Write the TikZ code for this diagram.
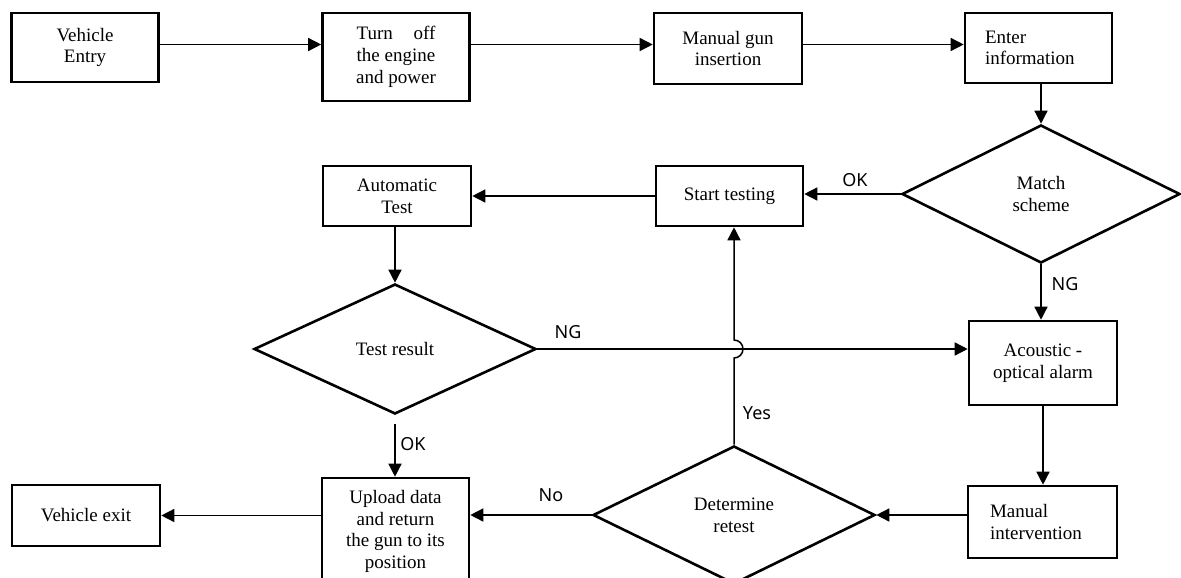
\documentclass[tikz,border=0pt]{standalone}
\usepackage{fontspec}
\setmainfont{Liberation Serif}
\newfontfamily\labfont{Noto Sans}
\usetikzlibrary{arrows.meta,shapes.geometric}
\begin{document}
\begin{tikzpicture}[x=1pt,y=-1pt,
  box/.style={draw,line width=2.6pt,rectangle,inner sep=0pt,align=center,
    font=\fontsize{19pt}{21.7pt}\selectfont},
  lbox/.style={box,align=left},
  dec/.style={draw,line width=2.6pt,diamond,inner sep=0pt,align=center,
    font=\fontsize{19pt}{21.7pt}\selectfont},
  conn/.style={line width=1.5pt,-{Triangle[length=13pt,width=13pt]}},
  lab/.style={font=\labfont\fontsize{18pt}{20pt}\selectfont,inner sep=0pt}]
\path[use as bounding box,clip] (0,0) rectangle (1181,578);

\coordinate (row) at (0,44.5);
% top row
\node[box,minimum width=147pt,minimum height=69pt] (ve) at (85,47.5) {Vehicle\\Entry};
\node[box,minimum width=147pt,minimum height=88pt] (to) at (396,57) {\makebox[4.14em]{Turn\hfill off}\\the engine\\and power};
\node[box,minimum width=148pt,minimum height=71pt] (mg) at (728,48.5) {Manual gun\\insertion};
\node[lbox,text width=107pt,minimum width=147pt,minimum height=70pt] (ei) at (1038.5,48) {Enter\\information};

% second row
\node[dec,minimum width=278pt,minimum height=138pt] (ms) at (1041,194) {Match\\scheme};
\node[box,minimum width=147pt,minimum height=60pt] (st) at (729.5,196) {Start testing};
\node[box,minimum width=148pt,minimum height=60pt] (at) at (397,196) {Automatic\\Test};

% third row
\node[dec,minimum width=282pt,minimum height=130pt] (tr) at (395,349) {Test result};
\node[box,minimum width=148pt,minimum height=84pt] (ac) at (1043,363) {Acoustic -\\optical alarm};

% bottom row
\node[lbox,text width=105pt,minimum width=149pt,minimum height=72pt] (mi) at (1042.5,522) {Manual\\intervention};
\node[dec,minimum width=282pt,minimum height=138pt] (dr) at (734,515) {Determine\\retest};
\node[box,minimum width=147pt,minimum height=107pt] (up) at (395.5,531.5) {Upload data\\and return\\the gun to its\\position};
\node[box,minimum width=148pt,minimum height=61pt] (vx) at (86,515.5) {Vehicle exit};

% connectors
\draw[conn] (ve.east |- row) -- (to.west |- row);
\draw[conn] (to.east |- row) -- (mg.west |- row);
\draw[conn] (mg.east |- row) -- (ei.west |- row);
\draw[conn] (ms.north |- ei.south) -- (ms.north);
\draw[conn] (ms.west) -- (ms.west -| st.east);
\draw[conn] (st.west) -- (st.west -| at.east);
\draw[conn] (tr.north |- at.south) -- (tr.north);
\draw[conn] (tr.east) -- (tr.east -| ac.west);
\draw[conn] (ms.south) -- (ms.south |- ac.north);
\draw[conn] (ac.south) -- (ac.south |- mi.north);
\draw[conn] (mi.west |- dr.east) -- (dr.east);
\draw[conn] (dr.west) -- (dr.west -| up.east);
\draw[conn,shorten <=9pt] (tr.south) -- (tr.south |- up.north);
\draw[conn] (vx.east -| up.west) -- (vx.east);
\coordinate (jb) at (dr.north |- tr.east);
\draw[conn] (dr.north) -- ([yshift=-9pt]jb) arc[start angle=-90,end angle=90,radius=9pt] -- (dr.north |- st.south);

% labels
\node[lab] (l1) at (855,180) {OK};
\node[lab] (l2) at (1065,284) {NG};
\node[lab] (l3) at (568,332) {NG};
\node[lab] (l4) at (757,413) {Yes};
\node[lab] (l5) at (413,444) {OK};
\node[lab] (l6) at (551,495) {No};
\end{tikzpicture}
\end{document}
